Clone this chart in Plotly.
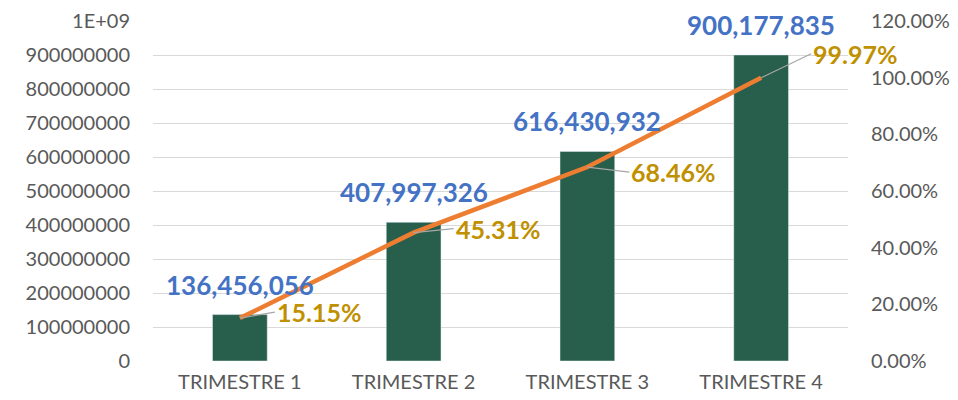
import plotly.graph_objects as go

categories = ["TRIMESTRE 1", "TRIMESTRE 2", "TRIMESTRE 3", "TRIMESTRE 4"]
values = [136456056, 407997326, 616430932, 900177835]
pct = [0.1515, 0.4531, 0.6846, 0.9997]
left_tickvals = [0, 1e8, 2e8, 3e8, 4e8, 5e8, 6e8, 7e8, 8e8, 9e8, 1e9]
left_ticktext = ["0", "100000000", "200000000", "300000000", "400000000", "500000000",
                 "600000000", "700000000", "800000000", "900000000", "1E+09"]
right_tickvals = [0, 0.2, 0.4, 0.6, 0.8, 1.0, 1.2]
pct_offsets = [(35, -6), (40, -4), (42, 5), (50, -24)]

FONT = "Lato"
fig = go.Figure()
fig.add_trace(go.Bar(x=categories, y=values, marker_color="#275E4C", width=0.315,
                     hoverinfo="skip"))
fig.add_trace(go.Scatter(x=categories, y=pct, yaxis="y2", mode="lines",
                         line=dict(color="#ED7D31", width=4.5), hoverinfo="skip"))

annotations = []
for c, v in zip(categories, values):
    annotations.append(dict(x=c, y=v, xref="x", yref="y", text=f"{v:,}", showarrow=False,
                            yanchor="middle", yshift=30,
                            font=dict(family=FONT, size=26, color="#4472C4", weight="bold")))
for c, p, (ax, ay) in zip(categories, pct, pct_offsets):
    annotations.append(dict(x=c, y=p, xref="x", yref="y2", text=f"{p*100:.2f}%",
                            showarrow=True, arrowhead=0, arrowwidth=1.2, arrowcolor="#A6A6A6",
                            ax=ax, ay=ay, xanchor="left", yanchor="middle",
                            font=dict(family=FONT, size=25, color="#BF9000", weight="bold")))

fig.update_layout(
    width=950, height=392,
    margin=dict(l=145, r=110, t=13, b=39),
    plot_bgcolor="white", paper_bgcolor="white",
    showlegend=False, bargap=0.5,
    font=dict(family=FONT, color="#595959"),
    xaxis=dict(range=[-0.5, 3.5], showgrid=False, showline=False, ticks="", automargin=False,
               ticklabelstandoff=7, tickfont=dict(size=20, color="#595959")),
    yaxis=dict(range=[0, 1e9], tickvals=left_tickvals, ticktext=left_ticktext,
               showgrid=True, gridcolor="#D9D9D9", gridwidth=1.3, zeroline=False,
               showline=False, ticks="", ticklabelstandoff=22, automargin=False,
               tickfont=dict(size=20, color="#595959")),
    yaxis2=dict(range=[0, 1.2], tickvals=right_tickvals, tickformat=".2%",
                overlaying="y", side="right", showgrid=False, zeroline=False,
                showline=False, ticks="", ticklabelstandoff=22, automargin=False,
                tickfont=dict(size=20, color="#595959")),
    annotations=annotations,
)
fig.write_html("out.html")
